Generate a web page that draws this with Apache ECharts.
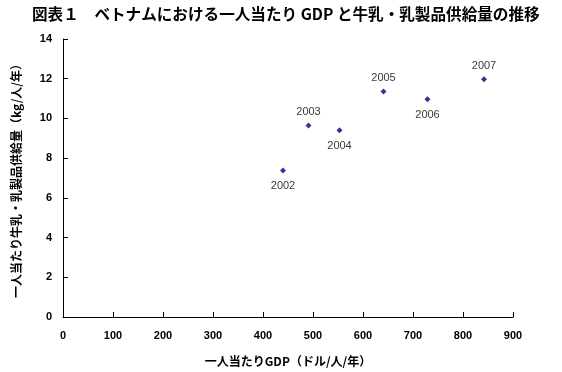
<!DOCTYPE html>
<html><head><meta charset="utf-8">
<script src="https://cdn.jsdelivr.net/npm/echarts@6/dist/echarts.min.js"></script>
<style>html,body{margin:0;padding:0;background:#fff}#c{width:562px;height:372px}</style>
</head><body><div id="c"></div>
<script>
const years = ['2002','2003','2004','2005','2006','2007'];
const gdp = [440, 491, 553, 641, 729, 842];
const supply = [7.38, 9.65, 9.40, 11.35, 10.96, 11.97];
const labelPos = ['bottom','top','bottom','top','bottom','top'];
const xTicks = [0,100,200,300,400,500,600,700,800,900];
const yTicks = [0,2,4,6,8,10,12,14];

const chart = echarts.init(document.getElementById('c'), null, {renderer:'canvas'});
const cjk = '"Noto Sans CJK JP", "Liberation Sans", sans-serif';
chart.setOption({
  animation:false,
  title:{text:'図表１　ベトナムにおける一人当たり GDP と牛乳・乳製品供給量の推移', left:27, top:1,
    textStyle:{fontFamily:cjk, fontSize:15.6, fontWeight:'bold', color:'#000'}},
  grid:{left:63, right:49, top:39, bottom:54},
  xAxis:{type:'value', min:xTicks[0], max:xTicks[xTicks.length-1], interval:100,
    name:'一人当たりGDP（ドル/人/年）', nameLocation:'middle', nameGap:38,
    nameTextStyle:{fontFamily:cjk, fontSize:12, fontWeight:'bold', color:'#000'},
    axisLine:{lineStyle:{color:'#000', width:1}},
    axisTick:{inside:true, length:5, lineStyle:{color:'#000'}},
    axisLabel:{margin:13, fontFamily:'"Liberation Sans", sans-serif', fontSize:11, fontWeight:'bold', color:'#000'},
    splitLine:{show:false}},
  yAxis:{type:'value', min:yTicks[0], max:yTicks[yTicks.length-1], interval:2,
    name:'一人当たり牛乳・乳製品供給量（kg/人/年）', nameLocation:'middle', nameGap:41,
    nameTextStyle:{fontFamily:cjk, fontSize:12, fontWeight:'bold', color:'#000'},
    axisLine:{show:true, lineStyle:{color:'#000', width:1}},
    axisTick:{show:true, inside:true, length:5, lineStyle:{color:'#000'}},
    axisLabel:{margin:11, fontFamily:'"Liberation Sans", sans-serif', fontSize:11, fontWeight:'bold', color:'#000'},
    splitLine:{show:false}},
  series:[{type:'scatter', symbol:'diamond', symbolSize:6,
    itemStyle:{color:'#000080'},
    data: gdp.map((g,i)=>({value:[g, supply[i]],
      label:{show:true, formatter:years[i], position:labelPos[i], distance:labelPos[i]==='top'?5:7,
        fontFamily:'"Liberation Sans", sans-serif', fontSize:11, color:'#000'}}))
  }]
});
</script></body></html>
